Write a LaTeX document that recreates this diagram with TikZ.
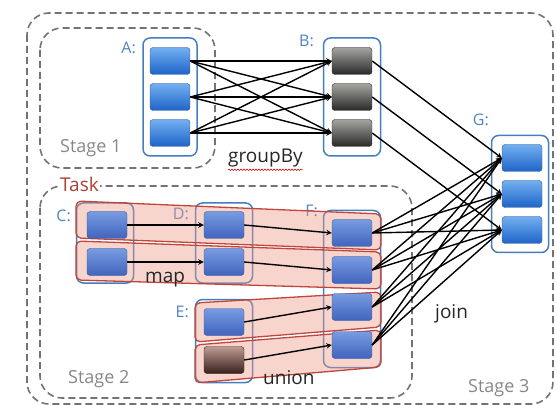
\documentclass[tikz,border=0pt]{standalone}
\usepackage{fontspec}
\setmainfont{Open Sans}
\usepackage{xcolor}
\usepackage{tikz}
\usetikzlibrary{calc, fit, arrows, decorations.pathmorphing}
\definecolor{stagegray}{RGB}{115,115,115}
\definecolor{boxblue}{RGB}{70,125,190}
\definecolor{labelblue}{RGB}{80,130,195}
\definecolor{cellhi}{RGB}{115,175,240}
\definecolor{celllo}{RGB}{30,100,200}
\definecolor{cellline}{RGB}{55,90,150}
\definecolor{taskhi}{RGB}{120,155,225}
\definecolor{tasklo}{RGB}{65,100,190}
\definecolor{grayhi}{RGB}{165,165,160}
\definecolor{graylo}{RGB}{40,40,40}
\definecolor{brownhi}{RGB}{190,155,145}
\definecolor{brownlo}{RGB}{55,32,28}
\definecolor{taskred}{RGB}{190,70,60}
\definecolor{taskfill}{RGB}{235,150,130}
\tikzstyle{arrow}    = [line width=1.4pt,->,>=stealth]

\begin{document}
\begin{tikzpicture}[x=1pt, y=-1pt,
    stage/.style={draw=stagegray, line width=1.6pt, dash pattern=on 7pt off 4pt, rounded corners=22pt},
    group/.style={draw=boxblue, line width=1.5pt, rounded corners=7pt, inner sep=0pt},
    cell/.style={draw=cellline, rounded corners=3pt, minimum width=40pt, minimum height=27pt, inner sep=0pt, top color=cellhi, bottom color=celllo},
    taskcell/.style={cell, top color=taskhi, bottom color=tasklo},
    graycell/.style={cell, draw=graylo, top color=grayhi, bottom color=graylo},
    browncell/.style={cell, draw=brownlo, top color=brownhi, bottom color=brownlo},
    task/.style={draw=taskred, line width=1.3pt, fill=taskfill, fill opacity=0.4, rounded corners=5pt},
    rddlabel/.style={font=\fontsize{16}{18}\selectfont, text=labelblue, anchor=base east, inner sep=0pt},
    oplabel/.style={font=\fontsize{19}{21}\selectfont, text=black!85, anchor=base west, inner sep=0pt},
    stagelabel/.style={font=\fontsize{18}{20}\selectfont, text=stagegray!85, anchor=base west, inner sep=0pt},
  ]
  \useasboundingbox (0,0) rectangle (557,406);

  % stages
  \draw[stage] (27,13) rectangle (553,404);
  \draw[stage] (40,28) rectangle (215,168);
  \draw[stage] (40,186) rectangle (412,398);
  \node[font=\fontsize{19}{21}\selectfont, text=taskred!90!black, fill=white, anchor=base west, inner sep=1pt] (task) at (59,192) {Task};

  % cell positions
  \foreach \i/\y in {1/61, 2/97, 3/133} {
    \coordinate (pa\i) at (170,\y);
    \coordinate (pb\i) at (352,\y);
  }
  \foreach \i/\y in {1/158, 2/194, 3/230}
    \coordinate (pg\i) at (522,\y);
  \foreach \i/\y in {1/225, 2/262} {
    \coordinate (pc\i) at (107,\y);
    \coordinate (pd\i) at (224,\y);
  }
  \coordinate (pe1) at (224,322);
  \coordinate (pe2) at (224,360);
  \foreach \i/\y in {1/233, 2/270, 3/307, 4/345}
    \coordinate (pf\i) at (352,\y);

  % rdd boxes
  \node[group, minimum width=54pt, minimum height=118pt] (A) at (170,97) {};
  \node[group, minimum width=57pt, minimum height=118pt] (B) at (352,97) {};
  \node[group, minimum width=57pt, minimum height=117pt] (G) at (520,194) {};
  \node[group, minimum width=57pt, minimum height=80pt] (C) at (105,243) {};
  \node[group, minimum width=57pt, minimum height=80pt] (D) at (224,243) {};
  \node[group, minimum width=57pt, minimum height=83pt] (E) at (224,341) {};
  \node[group, minimum width=57pt, minimum height=157pt] (F) at (352,289) {};

  \node[rddlabel] at (136,54) {A:};
  \node[rddlabel] at (314,47) {B:};
  \node[rddlabel] at (489,126) {G:};
  \node[rddlabel] at (71,222) {C:};
  \node[rddlabel] at (189,220) {D:};
  \node[rddlabel] at (189,317) {E:};
  \node[rddlabel] at (318,217) {F:};

  % tasks
  \draw[task] (76,201) -- (381,214) -- (381,250) -- (76,238) -- cycle;
  \draw[task] (76,241) -- (381,252) -- (381,289) -- (76,280) -- cycle;
  \draw[task] (195,303) -- (381,292) -- (381,327) -- (195,342) -- cycle;
  \draw[task] (195,345) -- (381,330) -- (381,367) -- (195,383) -- cycle;

  % cells
  \foreach \i in {1,2,3} {
    \node[cell] (a\i) at (pa\i) {};
    \node[graycell] (b\i) at (pb\i) {};
    \node[cell] (g\i) at (pg\i) {};
  }
  \foreach \i in {1,2} {
    \node[taskcell] (c\i) at (pc\i) {};
    \node[taskcell] (d\i) at (pd\i) {};
  }
  \node[taskcell] (e1) at (pe1) {};
  \node[browncell] (e2) at (pe2) {};
  \foreach \i in {1,...,4}
    \node[taskcell] (f\i) at (pf\i) {};

  % dependencies
  \foreach \i in {1,2,3}
    \foreach \j in {1,2,3}
      \draw[arrow] (a\i.east) -- (b\j.west);
  \foreach \i in {1,2,3}
    \draw[arrow] (b\i.east) -- (g\i.west);
  \foreach \i in {1,...,4}
    \foreach \j in {1,2,3}
      \draw[arrow] (f\i.east) -- (g\j.west);
  \foreach \i in {1,2} {
    \draw[arrow] (c\i.east) -- (d\i.west);
    \draw[arrow] (d\i.east) -- (f\i.west);
  }
  \draw[arrow] (e1.east) -- (f3.west);
  \draw[arrow] (e2.east) -- (f4.west);

  % labels
  \node[oplabel] (groupby) at (228,163) {groupBy};
  \draw[red!80!black, line width=0.5pt, decorate, decoration={snake, amplitude=0.8pt, segment length=3pt}]
    ($(groupby.south west)+(0,2)$) -- ($(groupby.south east)+(0,2)$);
  \node[oplabel] at (145,283) {map};
  \node[oplabel] at (263,384) {union};
  \node[oplabel] at (435,318) {join};
  \node[stagelabel] at (60,153) {Stage 1};
  \node[stagelabel] at (68,383) {Stage 2};
  \node[stagelabel] at (468,392) {Stage 3};
\end{tikzpicture}
\end{document}
